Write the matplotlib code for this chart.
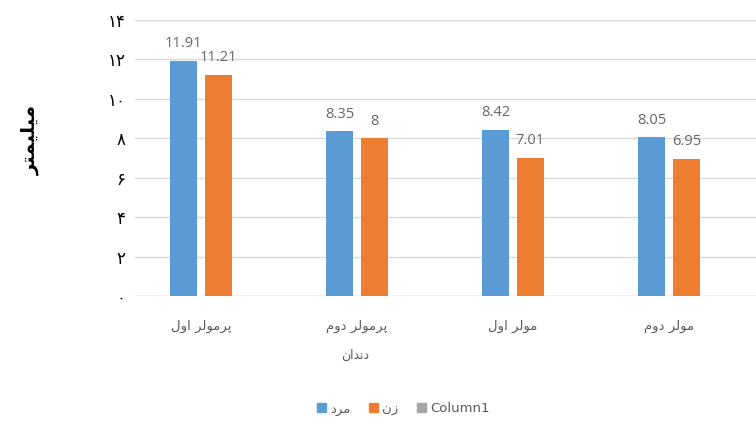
import matplotlib
matplotlib.use('Agg')
import matplotlib.pyplot as plt
from matplotlib.patches import Patch
import numpy as np

plt.rcParams['font.family'] = ['DejaVu Sans']

# داده‌ها
categories = ['پرمولر اول', 'پرمولر دوم', 'مولر اول', 'مولر دوم']
men = [11.91, 8.35, 8.42, 8.05]
women = [11.21, 8.00, 7.01, 6.95]
yticks = [0, 2, 4, 6, 8, 10, 12, 14]
series_names = ['مرد', 'زن', 'Column1']
xlabel = 'دندان'
ylabel = 'میلیمتر'

# شکل‌های حروف: (تنها، پایانی، آغازی، میانی)
FORMS = {
    'ا': (0xFE8D, 0xFE8E, None, None),
    'د': (0xFEA9, 0xFEAA, None, None),
    'ر': (0xFEAD, 0xFEAE, None, None),
    'ز': (0xFEAF, 0xFEB0, None, None),
    'و': (0xFEED, 0xFEEE, None, None),
    'پ': (0xFB56, 0xFB57, 0xFB58, 0xFB59),
    'ت': (0xFE95, 0xFE96, 0xFE97, 0xFE98),
    'ل': (0xFEDD, 0xFEDE, 0xFEDF, 0xFEE0),
    'م': (0xFEE1, 0xFEE2, 0xFEE3, 0xFEE4),
    'ن': (0xFEE5, 0xFEE6, 0xFEE7, 0xFEE8),
    'ی': (0xFEEF, 0xFEF0, 0xFEF3, 0xFEF4),
}


def shape_word(word):
    out = []
    for i, ch in enumerate(word):
        f = FORMS.get(ch)
        if f is None:
            out.append(ch)
            continue
        prev = word[i - 1] if i > 0 else None
        nxt = word[i + 1] if i < len(word) - 1 else None
        join_prev = prev in FORMS and FORMS[prev][2] is not None
        join_next = nxt in FORMS and f[2] is not None
        if join_prev and join_next:
            code = f[3]
        elif join_prev:
            code = f[1]
        elif join_next:
            code = f[2]
        else:
            code = f[0]
        out.append(chr(code))
    return ''.join(out)


def fa(text):
    # شکل‌دهی و برعکس کردن برای نمایش راست به چپ
    if not any(c in FORMS for c in text):
        return text
    words = [shape_word(w)[::-1] for w in text.split(' ')]
    return ' '.join(words[::-1])


def fa_digits(n):
    return ''.join(chr(0x06F0 + int(d)) for d in str(n))


fig = plt.figure(figsize=(7.56, 4.28), dpi=100)
ax = fig.add_axes([135 / 756, 132 / 428, 621 / 756, 276 / 428])

x = np.arange(len(categories))
w = 0.173
off = 0.112
b1 = ax.bar(x - off, men, w, color='#5B9BD5', zorder=3)
b2 = ax.bar(x + off, women, w, color='#ED7D31', zorder=3)

for bars in (b1, b2):
    ax.bar_label(bars, labels=[f'{v:g}' for v in bars.datavalues], padding=7,
                 color='#666666', fontsize=10.5, family=['Open Sans', 'DejaVu Sans'])

ax.set_ylim(0, 14)
ax.set_xlim(-0.423, 3.558)
ax.set_yticks(yticks)
ax.set_yticklabels([fa_digits(v) for v in yticks], fontsize=12)
ax.set_xticks(x)
ax.set_xticklabels([fa(c) for c in categories], fontsize=9.5, color='#595959')
ax.tick_params(axis='y', length=0, pad=7)
ax.tick_params(axis='x', length=0, pad=17)
ax.grid(axis='y', color='#D9D9D9', linewidth=1, zorder=0)
for s in ax.spines.values():
    s.set_visible(False)
ax.axhline(0, color='#D9D9D9', linewidth=1, zorder=2)

fig.text(355 / 756, 1 - 355 / 428, fa(xlabel), ha='center', va='center',
         fontsize=9, color='#595959')
fig.text(30 / 756, 1 - 140 / 428, fa(ylabel), rotation=90, ha='center', va='center',
         fontsize=14, fontweight='bold')

handles = [Patch(color='#5B9BD5'), Patch(color='#ED7D31'), Patch(color='#A5A5A5')]
fig.legend(handles, [fa(s) for s in series_names], loc='center',
           bbox_to_anchor=(403 / 756, 1 - 409 / 428), ncol=3, frameon=False,
           fontsize=9.5, handlelength=0.7, handleheight=0.7, columnspacing=1.4,
           handletextpad=0.3, labelcolor='#595959')

fig.savefig('out.png', dpi=100)
